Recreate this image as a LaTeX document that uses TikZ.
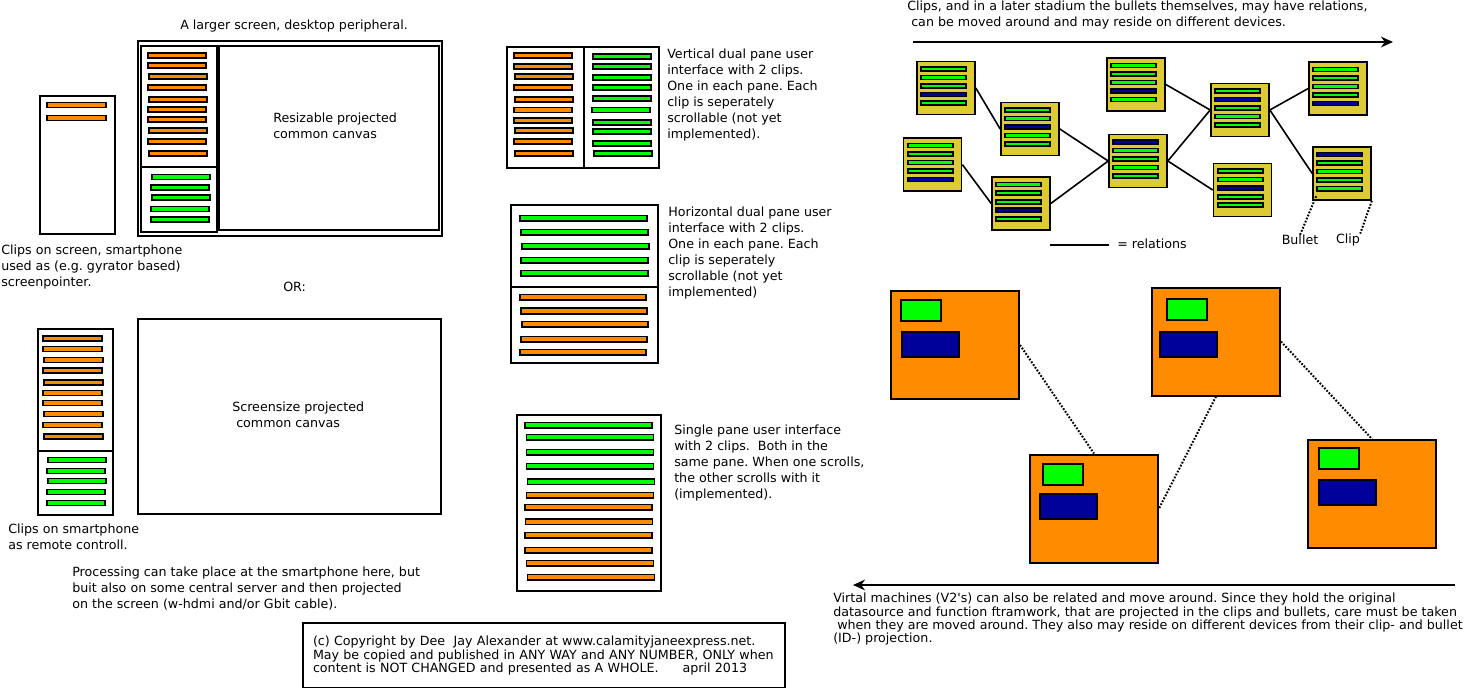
\documentclass[tikz,border=0pt]{standalone}
\usepackage{fontspec}
\setmainfont{DejaVu Sans}[Ligatures=TeXOff]
\usetikzlibrary{arrows.meta,calc}

\definecolor{cliporange}{RGB}{255,140,0}
\definecolor{clipgreen}{RGB}{0,255,0}
\definecolor{bulletblue}{RGB}{0,0,155}
\definecolor{cardyellow}{RGB}{221,203,54}

% clip card: name, x, y, colours of its five bullets
\newcommand{\clipcard}[4]{%
  \node[card] (#1) at (#2,#3) {};
  \foreach \barcol [count=\i] in {#4}
    \draw[cardbar, fill=\barcol] ($(#1.north west)+(5,{8.5*\i-2})$) rectangle ++(45,4);
}

% virtual machine: name, x, y, offset of the clip, offset of the bullet
\newcommand{\vmcard}[7]{%
  \node[vmbox] (#1) at (#2,#3) {};
  \draw[vmpart, fill=clipgreen] ($(#1.north west)+(#4,#5)$) rectangle ++(40,21);
  \draw[vmpart, fill=bulletblue] ($(#1.north west)+(#6,#7)$) rectangle ++(57,25);
}

\begin{document}
\frenchspacing
\begin{tikzpicture}[x=0.75pt, y=-0.75pt,
  frame/.style={line width=1.5pt},
  obar/.style={draw, line width=1.3pt, fill=cliporange},
  gbar/.style={draw, line width=1.3pt, fill=clipgreen},
  card/.style={draw, line width=1.2pt, fill=cardyellow, minimum width=43.5pt, minimum height=39.75pt},
  cardbar/.style={draw, line width=1.2pt},
  vmbox/.style={draw, line width=1.5pt, fill=cliporange, minimum width=96pt, minimum height=81pt},
  vmpart/.style={draw, line width=1.5pt},
  relline/.style={line width=1.2pt},
  vmlink/.style={line width=1.5pt, dash pattern=on 1.3pt off 1.2pt},
  flow/.style={line width=1.5pt, -{Stealth[length=9pt, width=8pt]}},
  note/.style={font=\fontsize{9.5}{12}\selectfont, align=left, inner sep=0pt, anchor=west}]
\useasboundingbox (0,0) rectangle (1477,688);

% Smartphone as screenpointer
\draw[frame] (40,96) rectangle (115,234);
\draw[obar] (47,102.5) rectangle (106,107.5);
\draw[obar] (47,115.5) rectangle (106,120.5);
\node[note] (onscreen) at (1,267) {Clips on screen, smartphone\\used as (e.g. gyrator based)\\screenpointer.};

% Desktop screen
\node[note] (larger) at (180,26) {A larger screen, desktop peripheral.};
\draw[frame] (138,41) rectangle (442,236);
\draw[frame] (141,46) rectangle (217,167);
\draw[frame] (141,167) rectangle (217,232);
\draw[frame] (219,46) rectangle (439,230);
\foreach \y/\d in {55.7/0,65.7/0,76.7/1,87.7/0,99.7/1,109.7/0,119.7/0,130.7/1,141.7/0,153.7/1}
  \draw[obar] (148+\d,\y-2.5) rectangle (206+\d,\y+2.5);
\foreach \y/\d in {177/1,187.7/0,197.7/1,209/0,219.7/0}
  \draw[gbar] (151+\d,\y-2.5) rectangle (209+\d,\y+2.5);
\node[note] (resizable) at (273,126) {Resizable projected\\common canvas};

\node[note] (or) at (283,287) {OR:};

% Smartphone as remote control
\draw[frame] (38,329) rectangle (113,451);
\draw[frame] (38,451) rectangle (113,515);
\foreach \y/\d in {338.7/0,349/0,360/1,370.7/0,382.7/1,393/0,403/0,414/1,425/0,436.7/1}
  \draw[obar] (43+\d,\y-2.5) rectangle (102+\d,\y+2.5);
\foreach \y/\d in {460/0,471/-1,481/0,492/-1,503/-1}
  \draw[gbar] (48+\d,\y-2.5) rectangle (106+\d,\y+2.5);
\draw[frame] (138,319) rectangle (441,514);
\node[note] (screensize) at (232,414.7) {Screensize projected\\\hspace*{3pt}common canvas};
\node[note] (remote) at (8,536.7) {Clips on smartphone\\as remote controll.};
\node[note] (processing) at (72,588.7) {Processing can take place at the smartphone here, but\\buit also on some central server and then projected\\on the screen (w-hdmi and/or Gbit cable).};

% Vertical dual pane
\draw[frame] (507,47) rectangle (584,168);
\draw[frame] (584,47) rectangle (659,168);
\foreach \y/\d in {55.7/0,66.7/0,76.7/1,87.7/0,99.7/1,110/0,120.7/0,130.7/1,141.7/0,153.7/1}
  \draw[obar] (514+\d,\y-2.5) rectangle (572+\d,\y+2.5);
\foreach \y/\d in {56.7/0,66.7/0,77.7/0,87.7/0,98.7/0,110/-1,122.7/0,131.7/0,143.7/0,153.7/1}
  \draw[gbar] (593+\d,\y-2.5) rectangle (651+\d,\y+2.5);
\node[note] (vertical) at (667,95) {Vertical dual pane user\\interface with 2 clips.\\One in each pane. Each\\clip is seperately\\scrollable (not yet\\implemented).};

% Horizontal dual pane
\draw[frame] (511,205) rectangle (658,287);
\draw[frame] (511,287) rectangle (658,363);
\foreach \y/\d in {218.3/0,232.3/1,246.3/2,260.3/1,273.3/1}
  \draw[gbar] (520+\d,\y-2.8) rectangle (647+\d,\y+2.8);
\foreach \y/\d in {297.3/0,311/1,324.3/2,339.3/1,352.3/0}
  \draw[obar] (520+\d,\y-2.8) rectangle (646+\d,\y+2.8);
\node[note] (horizontal) at (668,252.7) {Horizontal dual pane user\\interface with 2 clips.\\One in each pane. Each\\clip is seperately\\scrollable (not yet\\implemented)};

% Single pane
\draw[frame] (517,415) rectangle (661,591);
\foreach \y/\d in {425.3/0,437.3/1.5,452.3/1.5,466.3/1.5,481.7/2.5}
  \draw[gbar] (525+\d,\y-2.8) rectangle (652+\d,\y+2.8);
\foreach \y/\d in {495.3/1.5,507.3/0,521.7/0.5,535.3/0,550.3/0,563.3/1.5,577.3/2.5}
  \draw[obar] (525+\d,\y-2.8) rectangle (652+\d,\y+2.8);
\node[note] (single) at (674,463.3) {Single pane user interface\\with 2 clips.\ \ Both in the\\same pane. When one scrolls,\\the other scrolls with it\\(implemented).};

% Copyright
\node[draw, line width=1.5pt, anchor=north west, inner xsep=7.5pt, inner ysep=0pt,
  minimum height=48.75pt, text width=346.5pt, align=left,
  font=\fontsize{9.5}{10}\selectfont] (copyright) at (302,622)
  {(c) Copyright by Dee\ \ Jay Alexander at www.calamityjaneexpress.net.\\May be copied and published in ANY WAY and ANY NUMBER, ONLY when\\content is NOT CHANGED and presented as A WHOLE.\hspace{18pt}april 2013};

% Clips and bullets with relations
\node[note] (relintro) at (907,15.3) {Clips, and in a later stadium the bullets themselves, may have relations,\\\hspace*{3pt}can be moved around and may reside on different devices.};
\coordinate (flowL) at (913,42);
\coordinate (flowR) at (1393,42);
\draw[flow] (flowL) -- (flowR);

\clipcard{b1}{946}{88}{clipgreen,clipgreen,clipgreen,bulletblue,clipgreen}
\clipcard{b2}{1030}{129}{clipgreen,clipgreen,bulletblue,clipgreen,clipgreen}
\clipcard{b3}{932.5}{164.5}{clipgreen,clipgreen,clipgreen,clipgreen,bulletblue}
\clipcard{b4}{1021}{203.5}{clipgreen,clipgreen,clipgreen,bulletblue,clipgreen}
\clipcard{b5}{1136}{84.5}{clipgreen,clipgreen,clipgreen,bulletblue,clipgreen}
\clipcard{b6}{1138}{161}{bulletblue,clipgreen,clipgreen,clipgreen,clipgreen}
\clipcard{b7}{1240}{110}{clipgreen,bulletblue,clipgreen,clipgreen,clipgreen}
\clipcard{b8}{1242.5}{190}{clipgreen,clipgreen,bulletblue,clipgreen,clipgreen}
\clipcard{b9}{1338}{88.5}{clipgreen,clipgreen,clipgreen,clipgreen,bulletblue}
\clipcard{b10}{1342}{173.5}{bulletblue,clipgreen,clipgreen,clipgreen,clipgreen}

\draw[relline] (b1.east) -- (b2.west);
\draw[relline] (b3.east) -- (b4.west);
\draw[relline] (b2.east) -- (b6.west);
\draw[relline] (b4.east) -- (b6.west);
\draw[relline] (b5.east) -- (b7.west);
\draw[relline] (b6.east) -- (b7.west);
\draw[relline] (b6.east) -- (b8.west);
\draw[relline] (b7.east) -- (b9.west);
\draw[relline] (b7.east) -- (b10.west);

% Legend
\coordinate (relA) at (1050,245);
\coordinate (relB) at (1109,245);
\draw[relline] (relA) -- (relB);
\node[note] (relations) at (1117,244) {= relations};
\node[note, anchor=center] (bulletlbl) at (1300,240) {Bullet};
\node[note, anchor=center] (cliplbl) at (1348,240) {Clip};
\coordinate (bulletpt) at ($(b10.north west)+(4,50)$);
\draw[vmlink] (bulletpt) -- (bulletlbl.north);
\draw[vmlink] (b10.south east) -- (cliplbl.north east);

% Virtual machines
\vmcard{vm1}{955}{345}{11}{10}{12}{42}
\vmcard{vm2}{1216}{341.5}{16}{12}{9}{45}
\vmcard{vm3}{1094}{508.5}{14}{10}{11}{40}
\vmcard{vm4}{1372}{494}{12}{9}{12}{41}
\draw[vmlink] (vm1.east) -- (vm3.north);
\draw[vmlink] (vm2.south) -- (vm3.east);
\draw[vmlink] (vm2.east) -- (vm4.north);

\coordinate (backR) at (1455,585);
\coordinate (backL) at (853,585);
\draw[flow] (backR) -- (backL);
\node[note, font=\fontsize{9.5}{10}\selectfont] (vmnote) at (833,619.2) {Virtal machines (V2's) can also be related and move around. Since they hold the original\\datasource and function ftramwork, that are projected in the clips and bullets, care must be taken\\\hspace*{3pt}when they are moved around. They also may reside on different devices from their clip- and bullet\\(ID-) projection.};
\end{tikzpicture}
\end{document}
